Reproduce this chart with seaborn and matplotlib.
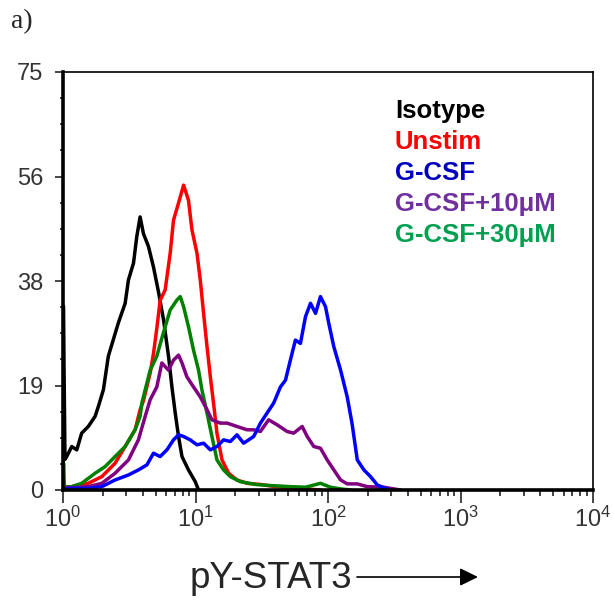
import numpy as np
import pandas as pd
import matplotlib
matplotlib.use('Agg')
import matplotlib.pyplot as plt
import seaborn as sns
from matplotlib.ticker import FixedLocator, LogLocator, NullFormatter

# histogram traces, x given as decades (log10 of fluorescence), y as counts
iso_log = [0.0, 0.003, 0.015, 0.028, 0.066, 0.104, 0.141, 0.191, 0.242, 0.267, 0.305, 0.342,
           0.380, 0.418, 0.469, 0.494, 0.532, 0.557, 0.582, 0.607, 0.645, 0.683, 0.721, 0.759,
           0.797, 0.822, 0.847, 0.872, 0.898, 0.947, 0.998, 1.023]
iso_count = [0, 33, 5.5, 6, 7.8, 7.2, 10.2, 11.4, 13.2, 15, 18, 24,
             27, 30, 33.5, 37.7, 40.7, 45.5, 49, 46, 43.7, 40, 35.5, 30.5,
             23.9, 18.5, 13.8, 9.6, 6, 3.6, 1.5, 0]

unstim_log = [0.004, 0.066, 0.191, 0.293, 0.393, 0.469, 0.544, 0.582, 0.607, 0.658, 0.683,
              0.708, 0.733, 0.771, 0.809, 0.834, 0.872, 0.910, 0.947, 0.973, 1.011, 1.036,
              1.061, 1.087, 1.112, 1.136, 1.162, 1.200, 1.250, 1.313, 1.389, 1.488, 1.603,
              1.716, 1.830, 1.943]
unstim_count = [0.5, 0.6, 1.2, 2.4, 4.8, 7.8, 10.8, 14.4, 16, 21, 24.5,
                29, 34, 35.9, 42.5, 48.4, 51.5, 54.7, 52, 46.7, 42.5, 37.7,
                31.7, 25.7, 20.3, 15.6, 10.2, 5.4, 3, 1.8, 1.2, 1.0, 0.6,
                0.4, 0.2, 0]

gcsf_log = [0.004, 0.191, 0.293, 0.393, 0.494, 0.569, 0.633, 0.683, 0.733, 0.784, 0.834,
            0.872, 0.910, 0.960, 1.011, 1.061, 1.112, 1.162, 1.212, 1.263, 1.313, 1.363,
            1.414, 1.439, 1.490, 1.540, 1.590, 1.641, 1.679, 1.716, 1.754, 1.792, 1.830,
            1.868, 1.906, 1.943, 1.981, 2.006, 2.044, 2.095, 2.145, 2.181, 2.221, 2.271,
            2.321, 2.372, 2.422, 2.473]
gcsf_count = [0.3, 0.3, 0.6, 1.8, 2.7, 3.6, 4.5, 6.6, 6, 7.2, 9,
              9.9, 9.6, 9, 8.1, 8.4, 7.2, 7.8, 9, 8.7, 9.9, 8.4,
              9.2, 9.6, 12, 13.8, 15.6, 18.5, 19.7, 23.3, 26.9, 26.3, 31.1,
              33.5, 31.7, 34.7, 32.9, 29.9, 25.7, 21.5, 16.7, 12, 5.4, 3.6,
              2.4, 0.9, 0.4, 0]

g10_log = [0.004, 0.191, 0.293, 0.393, 0.494, 0.569, 0.620, 0.658, 0.708, 0.746, 0.796,
           0.834, 0.872, 0.898, 0.935, 0.985, 1.036, 1.087, 1.124, 1.187, 1.238, 1.313,
           1.389, 1.439, 1.490, 1.552, 1.616, 1.691, 1.741, 1.805, 1.843, 1.893, 1.943,
           1.994, 2.044, 2.095, 2.145, 2.221, 2.296, 2.420, 2.548]
g10_count = [0.3, 0.6, 1.2, 3, 5.4, 9, 13.2, 16.2, 18.5, 22.8, 21.5,
             23.3, 24.2, 22.8, 20.3, 18.5, 16.7, 14.4, 12.6, 12, 12, 11.4,
             10.8, 10.8, 10.5, 12.6, 11.7, 10.5, 10.2, 11.4, 9.6, 7.8, 7.5,
             5.4, 3.6, 1.8, 1.1, 1.1, 0.6, 0.5, 0]

g30_log = [0.0, 0.004, 0.011, 0.066, 0.141, 0.242, 0.318, 0.393, 0.469, 0.544, 0.582, 0.595,
           0.658, 0.708, 0.755, 0.809, 0.860, 0.885, 0.910, 0.947, 0.985, 1.023, 1.049,
           1.087, 1.124, 1.162, 1.212, 1.263, 1.338, 1.452, 1.565, 1.716, 1.830, 1.943,
           2.019, 2.095, 2.170]
g30_count = [0, 4.8, 0.5, 0.6, 1.2, 3, 4.2, 6, 7.8, 10.8, 13.2, 15.6,
             21.5, 24, 28, 32.3, 34.1, 34.7, 32.9, 29.3, 25.1, 21.5, 17.9,
             13.8, 9.6, 5.4, 3.6, 2.4, 1.5, 1.0, 0.8, 0.6, 0.5, 1.2,
             0.5, 0.2, 0]

samples = ['Isotype', 'Unstim', 'G-CSF', 'G-CSF+10μM', 'G-CSF+30μM']
line_colors = ['#000000', '#ff0000', '#0000ff', '#800080', '#008000']
text_colors = ['#000000', '#ff0000', '#0000c0', '#7030a0', '#00a050']
draw_order = ['Isotype', 'Unstim', 'G-CSF+30μM', 'G-CSF+10μM', 'G-CSF']

ytick_pos = [0, 18.75, 37.5, 56.25, 75]
ytick_labels = ['0', '19', '38', '56', '75']

frames = []
for name, lg, ct in zip(samples,
                        [iso_log, unstim_log, gcsf_log, g10_log, g30_log],
                        [iso_count, unstim_count, gcsf_count, g10_count, g30_count]):
    frames.append(pd.DataFrame({'sample': name, 'intensity': 10 ** np.array(lg), 'count': ct}))
df = pd.concat(frames, ignore_index=True)

sns.set_style('ticks')
plt.rcParams['font.family'] = ['Liberation Sans', 'DejaVu Sans']
plt.rcParams['mathtext.default'] = 'regular'

fig = plt.figure(figsize=(6.14, 6.0), dpi=100)
ax = fig.add_axes([63 / 614, 110 / 600, 530 / 614, 418 / 600])

sns.lineplot(data=df, x='intensity', y='count', hue='sample', hue_order=draw_order,
             palette=dict(zip(samples, line_colors)), estimator=None, sort=False,
             linewidth=2.5, legend=False, ax=ax)

ax.set_xscale('log')
ax.set_xlim(1, 1e4)
ax.set_ylim(0, 75)
ax.set_xlabel('')
ax.set_ylabel('')

ax.set_yticks(ytick_pos)
ax.set_yticklabels(ytick_labels)
ax.yaxis.set_minor_locator(FixedLocator(np.arange(0, 75.01, 75 / 16)))
ax.xaxis.set_minor_locator(LogLocator(base=10, subs=np.arange(2, 10), numticks=20))
ax.xaxis.set_minor_formatter(NullFormatter())

ax.tick_params(axis='both', which='major', direction='out', labelsize=17,
               labelcolor='#333333', width=1.2)
ax.tick_params(axis='x', which='major', length=9, pad=3)
ax.tick_params(axis='x', which='minor', direction='out', length=4.5, width=1.2)
ax.tick_params(axis='y', which='major', length=6, pad=8)
ax.tick_params(axis='y', which='minor', direction='out', length=2.5, width=1.2)

for side in ['left', 'bottom']:
    ax.spines[side].set_linewidth(2.6)
for side in ['top', 'right']:
    ax.spines[side].set_linewidth(1.2)
for sp in ax.spines.values():
    sp.set_color('black')

# legend as coloured labels
for i, (name, col) in enumerate(zip(samples, text_colors)):
    fig.text(395 / 614, 1 - (118 + 31 * i) / 600, name, color=col, fontsize=18.5,
             fontweight='bold', ha='left', va='baseline')

# panel letter
fig.text(11 / 614, 1 - 28 / 600, 'a)', fontsize=20, family=['Liberation Serif', 'DejaVu Serif'],
         ha='left', va='baseline')

# axis label with arrow
fig.text(190 / 614, 1 - 588 / 600, 'pY-STAT3', fontsize=26.5, ha='left', va='baseline')
fig.add_artist(matplotlib.patches.FancyArrowPatch(
    (357 / 614, 1 - 577 / 600), (478 / 614, 1 - 577 / 600), transform=fig.transFigure,
    arrowstyle='-|>,head_length=0.55,head_width=0.27', mutation_scale=20,
    lw=1.2, color='black', shrinkA=0, shrinkB=0))

fig.savefig('out.png', dpi=100)
